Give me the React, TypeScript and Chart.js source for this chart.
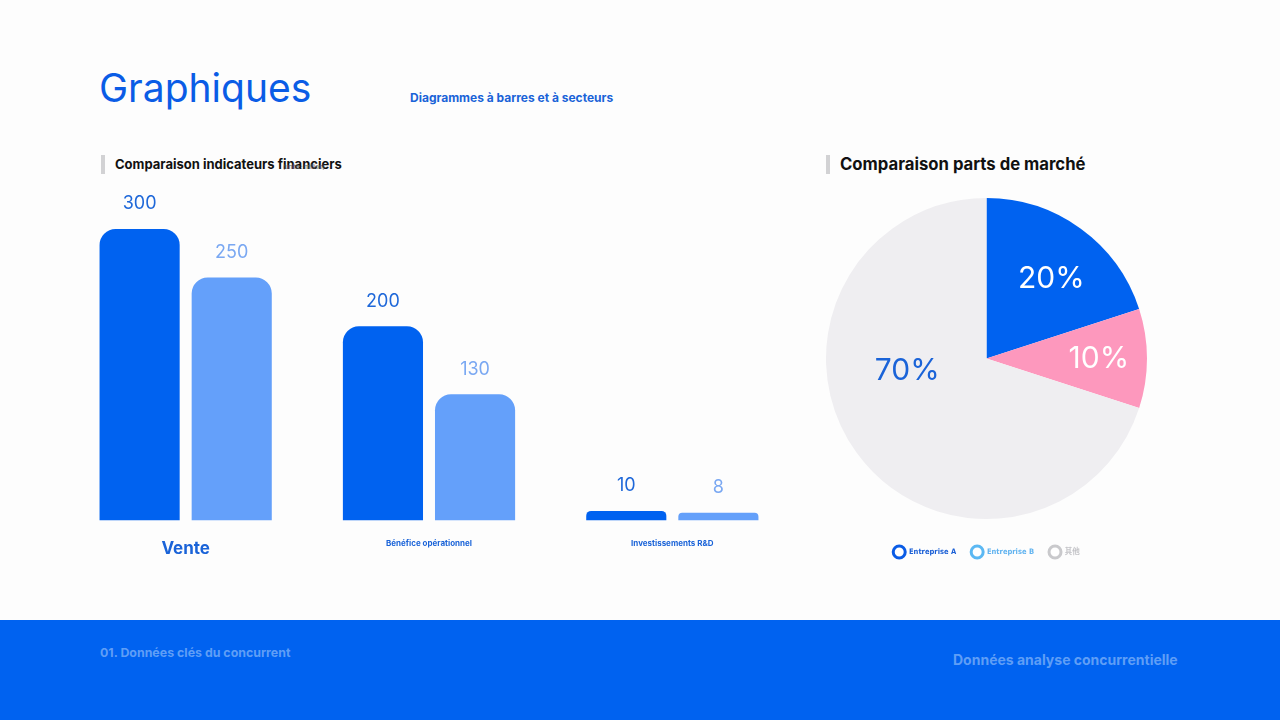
import { useEffect, useRef } from 'react';
import { Chart, registerables } from 'chart.js';

Chart.register(...registerables);

// bar chart data
const barCategories = ['Vente', 'Bénéfice opérationnel', 'Investissements R&D'];
const seriesA = [300, 200, 10];
const seriesB = [250, 130, 8];

// pie chart data
const pieLabels = ['Entreprise A', 'Entreprise B', '其他'];
const pieValues = [20, 10, 70];
const pieColors = ['#0062f0', '#fd98bd', '#efeef1'];
const pieLabelColors = ['#ffffff', '#ffffff', '#1a63d8'];
const legendColors = ['#0a5ce6', '#5bb8f3', '#c9c9cc'];
const legendTextColors = ['#1a5fd6', '#62b4f0', '#c4c4c8'];

const FONT = 'Inter, "Noto Sans CJK SC", sans-serif';
const NARROW = '"Liberation Sans Narrow", "DejaVu Sans Condensed", "Noto Sans CJK SC", sans-serif';

const barValueLabels = {
  id: 'barValueLabels',
  afterDatasetsDraw(chart: any) {
    const { ctx } = chart;
    const colors = ['#1f68d9', '#7aa8f2'];
    ctx.save();
    ctx.font = `400 18px ${FONT}`;
    ctx.textAlign = 'center';
    ctx.textBaseline = 'middle';
    chart.data.datasets.forEach((ds: any, di: number) => {
      chart.getDatasetMeta(di).data.forEach((bar: any, i: number) => {
        ctx.fillStyle = colors[di];
        ctx.fillText(String(ds.data[i]), bar.x, bar.y - 25);
      });
    });
    ctx.restore();
  },
};

const pieValueLabels = {
  id: 'pieValueLabels',
  afterDatasetsDraw(chart: any) {
    const { ctx } = chart;
    // radius fraction and angle shift for each slice label
    const place = [
      { r: 0.64, a: 0.055 },
      { r: 0.7, a: 0 },
      { r: 0.5, a: 0.47 },
    ];
    ctx.save();
    ctx.font = `400 30px ${FONT}`;
    ctx.textAlign = 'center';
    ctx.textBaseline = 'middle';
    chart.getDatasetMeta(0).data.forEach((arc: any, i: number) => {
      const mid = (arc.startAngle + arc.endAngle) / 2 + place[i].a;
      const r = arc.outerRadius * place[i].r;
      ctx.fillStyle = pieLabelColors[i];
      ctx.fillText(pieValues[i] + '%', arc.x + Math.cos(mid) * r, arc.y + Math.sin(mid) * r);
    });
    ctx.restore();
  },
};

function BarChart() {
  const ref = useRef<HTMLCanvasElement>(null);
  useEffect(() => {
    if (!ref.current) return;
    const chart = new Chart(ref.current, {
      type: 'bar',
      data: {
        labels: barCategories,
        datasets: [
          { label: 'A', data: seriesA, backgroundColor: '#0062f0', borderRadius: 16, borderSkipped: 'start' },
          { label: 'B', data: seriesB, backgroundColor: '#64a0fa', borderRadius: 16, borderSkipped: 'start' },
        ],
      },
      options: {
        animation: false,
        responsive: true,
        maintainAspectRatio: false,
        categoryPercentage: 0.757,
        barPercentage: 0.87,
        layout: { padding: { top: 49, bottom: 22, left: 0, right: 0 } },
        plugins: { legend: { display: false }, tooltip: { enabled: false } },
        scales: {
          y: { display: false, min: 0, max: 300 },
          x: {
            grid: { display: false },
            border: { display: false },
            ticks: {
              padding: 10,
              color: '#1a63d8',
              maxRotation: 0,
              autoSkip: false,
              font: (c: any) => ({ family: FONT, weight: 'bold', size: c.index === 0 ? 17 : 8 }),
            },
          },
        },
      },
      plugins: [barValueLabels],
    });
    return () => chart.destroy();
  }, []);
  return <canvas ref={ref} />;
}

function PieChart() {
  const ref = useRef<HTMLCanvasElement>(null);
  useEffect(() => {
    if (!ref.current) return;
    const chart = new Chart(ref.current, {
      type: 'pie',
      data: {
        labels: pieLabels,
        datasets: [{ data: pieValues, backgroundColor: pieColors, borderWidth: 0 }],
      },
      options: {
        animation: false,
        responsive: true,
        maintainAspectRatio: false,
        layout: { padding: { top: 10, bottom: 10 } },
        plugins: {
          tooltip: { enabled: false },
          legend: {
            position: 'bottom',
            labels: {
              useBorderRadius: true,
              borderRadius: 6,
              boxWidth: 12,
              boxHeight: 12,
              padding: 15,
              font: { family: NARROW, size: 7.5, weight: 'bold' },
              generateLabels: () =>
                pieLabels.map((t, i) => ({
                  text: t,
                  fillStyle: '#ffffff',
                  strokeStyle: legendColors[i],
                  lineWidth: 3,
                  fontColor: legendTextColors[i],
                  borderRadius: 6,
                  hidden: false,
                  index: i,
                })),
            },
          },
        },
      },
      plugins: [pieValueLabels],
    });
    return () => chart.destroy();
  }, []);
  return <canvas ref={ref} />;
}

const abs = (s: any): any => ({ position: 'absolute', ...s });

export default function App() {
  return (
    <div style={{ position: 'fixed', left: 0, top: 0, width: 1280, height: 720, background: '#fdfdfd', fontFamily: FONT, overflow: 'hidden' }}>
      <div style={abs({ left: 99, top: 68, fontSize: 39, lineHeight: '40px', color: '#0a5ce6', fontWeight: 400 })}>Graphiques</div>
      <div style={abs({ left: 410, top: 91, fontSize: 12, lineHeight: '14px', color: '#1a63d8', fontWeight: 700 })}>
        Diagrammes à barres et à secteurs
      </div>

      <div style={abs({ left: 101, top: 155, width: 4, height: 19, background: '#d2d2d4' })} />
      <div style={abs({ left: 115, top: 156, fontSize: 13, lineHeight: '16px', color: '#111', fontWeight: 700 })}>
        Comparaison indicateurs financiers
      </div>
      <div style={abs({ left: 283, top: 163, fontSize: 6, lineHeight: '8px', color: '#666', fontWeight: 400 })}>(unité : million)</div>

      <div style={abs({ left: 826, top: 155, width: 4, height: 19, background: '#d2d2d4' })} />
      <div style={abs({ left: 840, top: 154, fontSize: 16.7, lineHeight: '21px', color: '#111', fontWeight: 700 })}>
        Comparaison parts de marché
      </div>

      <div style={abs({ left: 64, top: 180, width: 730, height: 411 })}>
        <BarChart />
      </div>
      <div style={abs({ left: 826, top: 176, width: 321, height: 402 })}>
        <PieChart />
      </div>

      <div style={abs({ left: 0, top: 620, width: 1280, height: 100, background: '#0062f0' })} />
      <div style={abs({ left: 100, top: 645, fontSize: 12.4, lineHeight: '15px', color: '#5f9ef6', fontWeight: 700 })}>
        01. Données clés du concurrent
      </div>
      <div style={abs({ left: 953, top: 651, fontSize: 14, lineHeight: '17px', color: '#5f9ef6', fontWeight: 700 })}>
        Données analyse concurrentielle
      </div>
    </div>
  );
}
